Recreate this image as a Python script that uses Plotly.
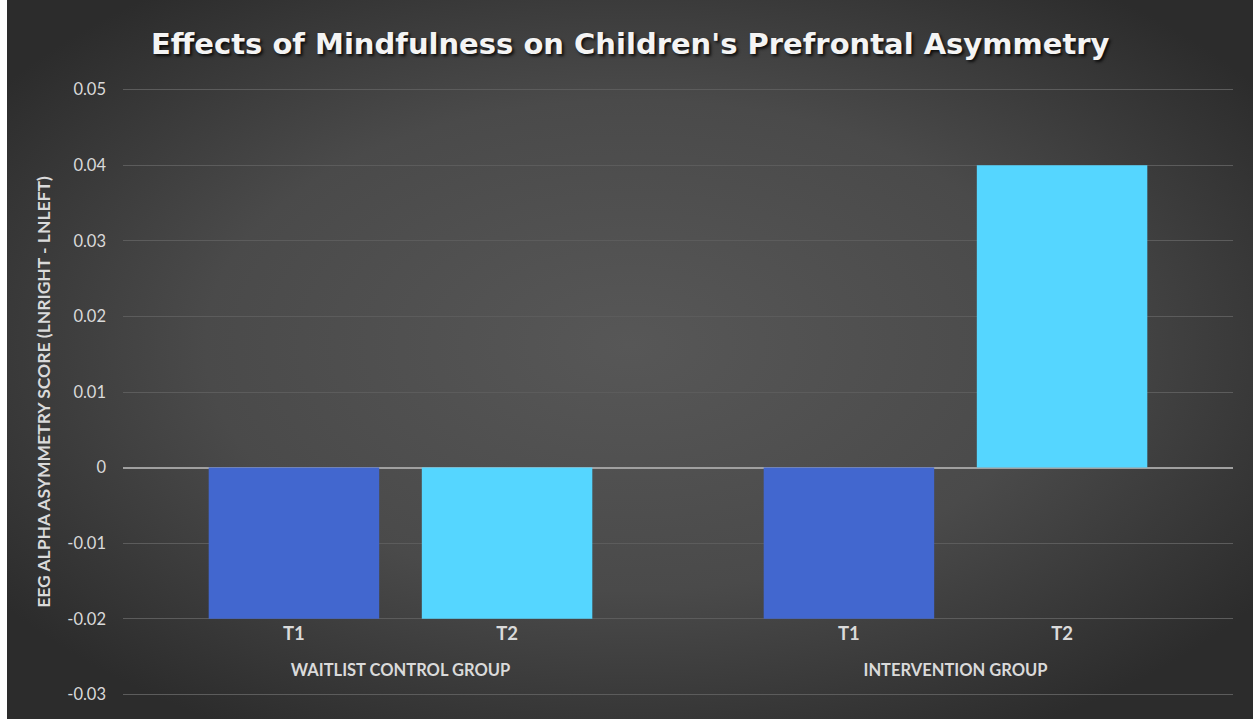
import plotly.graph_objects as go

# ---- data ----
groups = ["WAITLIST CONTROL GROUP", "INTERVENTION GROUP"]
series_names = ["T1", "T2"]
t1_values = [-0.02, -0.02]
t2_values = [-0.02, 0.04]
y_tickvals = [-0.03, -0.02, -0.01, 0, 0.01, 0.02, 0.03, 0.04, 0.05]
y_ticktext = ["-0.03", "-0.02", "-0.01", "0", "0.01", "0.02", "0.03", "0.04", "0.05"]

title_text = "Effects of Mindfulness on Children's Prefrontal Asymmetry"
y_title = "EEG ALPHA ASYMMETRY SCORE (LNRIGHT - LNLEFT)"

# ---- layout constants ----
W, H = 1253, 719
ML, MR, MT, MB = 123, 20, 88, 23
PW, PH = W - ML - MR, H - MT - MB

T1_COLOR = "#4267cf"
T2_COLOR = "#55d6ff"
TEXT_COLOR = "#dadada"

bg_svg = (
    "data:image/svg+xml;utf8,"
    "<svg xmlns='http://www.w3.org/2000/svg' width='1253' height='719' viewBox='0 0 1253 719'>"
    "<defs><radialGradient id='g' cx='0.5' cy='0.48' r='0.62' gradientUnits='objectBoundingBox'>"
    "<stop offset='0' stop-color='%23575757'/>"
    "<stop offset='0.55' stop-color='%234a4a4a'/>"
    "<stop offset='1' stop-color='%232c2c2c'/>"
    "</radialGradient></defs>"
    "<rect x='0' y='0' width='1253' height='719' fill='url(%23g)'/></svg>"
)

fig = go.Figure()
fig.add_trace(go.Bar(name=series_names[0], x=groups, y=t1_values,
                     marker=dict(color=T1_COLOR, line=dict(width=0)),
                     offsetgroup="T1", alignmentgroup="a"))
fig.add_trace(go.Bar(name=series_names[1], x=groups, y=t2_values,
                     marker=dict(color=T2_COLOR, line=dict(width=0)),
                     offsetgroup="T2", alignmentgroup="a"))

# series labels beneath each bar position
LABEL_Y = -0.0222
for name in series_names:
    fig.add_trace(go.Scatter(x=groups, y=[LABEL_Y] * len(groups), mode="text",
                             text=[name] * len(groups), offsetgroup=name,
                             alignmentgroup="a", hoverinfo="skip",
                             textfont=dict(family="Lato", size=18.5, color=TEXT_COLOR, weight="bold"),
                             showlegend=False))

fig.update_layout(
    width=W, height=H,
    margin=dict(l=ML, r=MR, t=MT, b=MB, pad=0),
    paper_bgcolor="#3a3a3a",
    plot_bgcolor="rgba(0,0,0,0)",
    barmode="group", bargap=0.232, bargroupgap=0.2,
    scattermode="group", scattergap=0.232,
    showlegend=False,
    font=dict(family="Lato", color=TEXT_COLOR),
    title=dict(text=title_text, x=0.503, xanchor="center", y=1 - 44 / H, yanchor="middle",
               font=dict(family="DejaVu Sans", size=29, color="#f4f4f4", weight="bold",
                         shadow="2px 2px 3px rgba(0,0,0,0.8)")),
    images=[dict(source=bg_svg, xref="paper", yref="paper",
                 x=-(ML - 7) / PW, y=1 + MT / PH, sizex=(W - 7) / PW, sizey=H / PH,
                 xanchor="left", yanchor="top", sizing="stretch", layer="below")],
    shapes=[dict(type="rect", xref="paper", yref="paper",
                 x0=-ML / PW, x1=-(ML - 7) / PW, y0=-MB / PH, y1=1 + MT / PH,
                 fillcolor="white", line=dict(width=0), layer="below")],
    xaxis=dict(type="category", showgrid=False, showline=False, zeroline=False,
               ticks="", ticklabelposition="outside", ticklabelstandoff=-38,
               tickfont=dict(family="Lato", size=16.5, color=TEXT_COLOR, weight="bold")),
    yaxis=dict(range=[-0.0302, 0.0502], tickvals=y_tickvals, ticktext=y_ticktext,
               showgrid=True, gridcolor="#5c5c5c", gridwidth=1,
               zeroline=True, zerolinecolor="#a0a0a0", zerolinewidth=2,
               showline=False, ticks="", ticklabelstandoff=16,
               tickfont=dict(family="Lato", size=16.5, color=TEXT_COLOR),
               title=dict(text=y_title, standoff=12,
                          font=dict(family="Lato", size=17.5, color=TEXT_COLOR, weight="bold"))),
)

fig.write_html("out.html")
